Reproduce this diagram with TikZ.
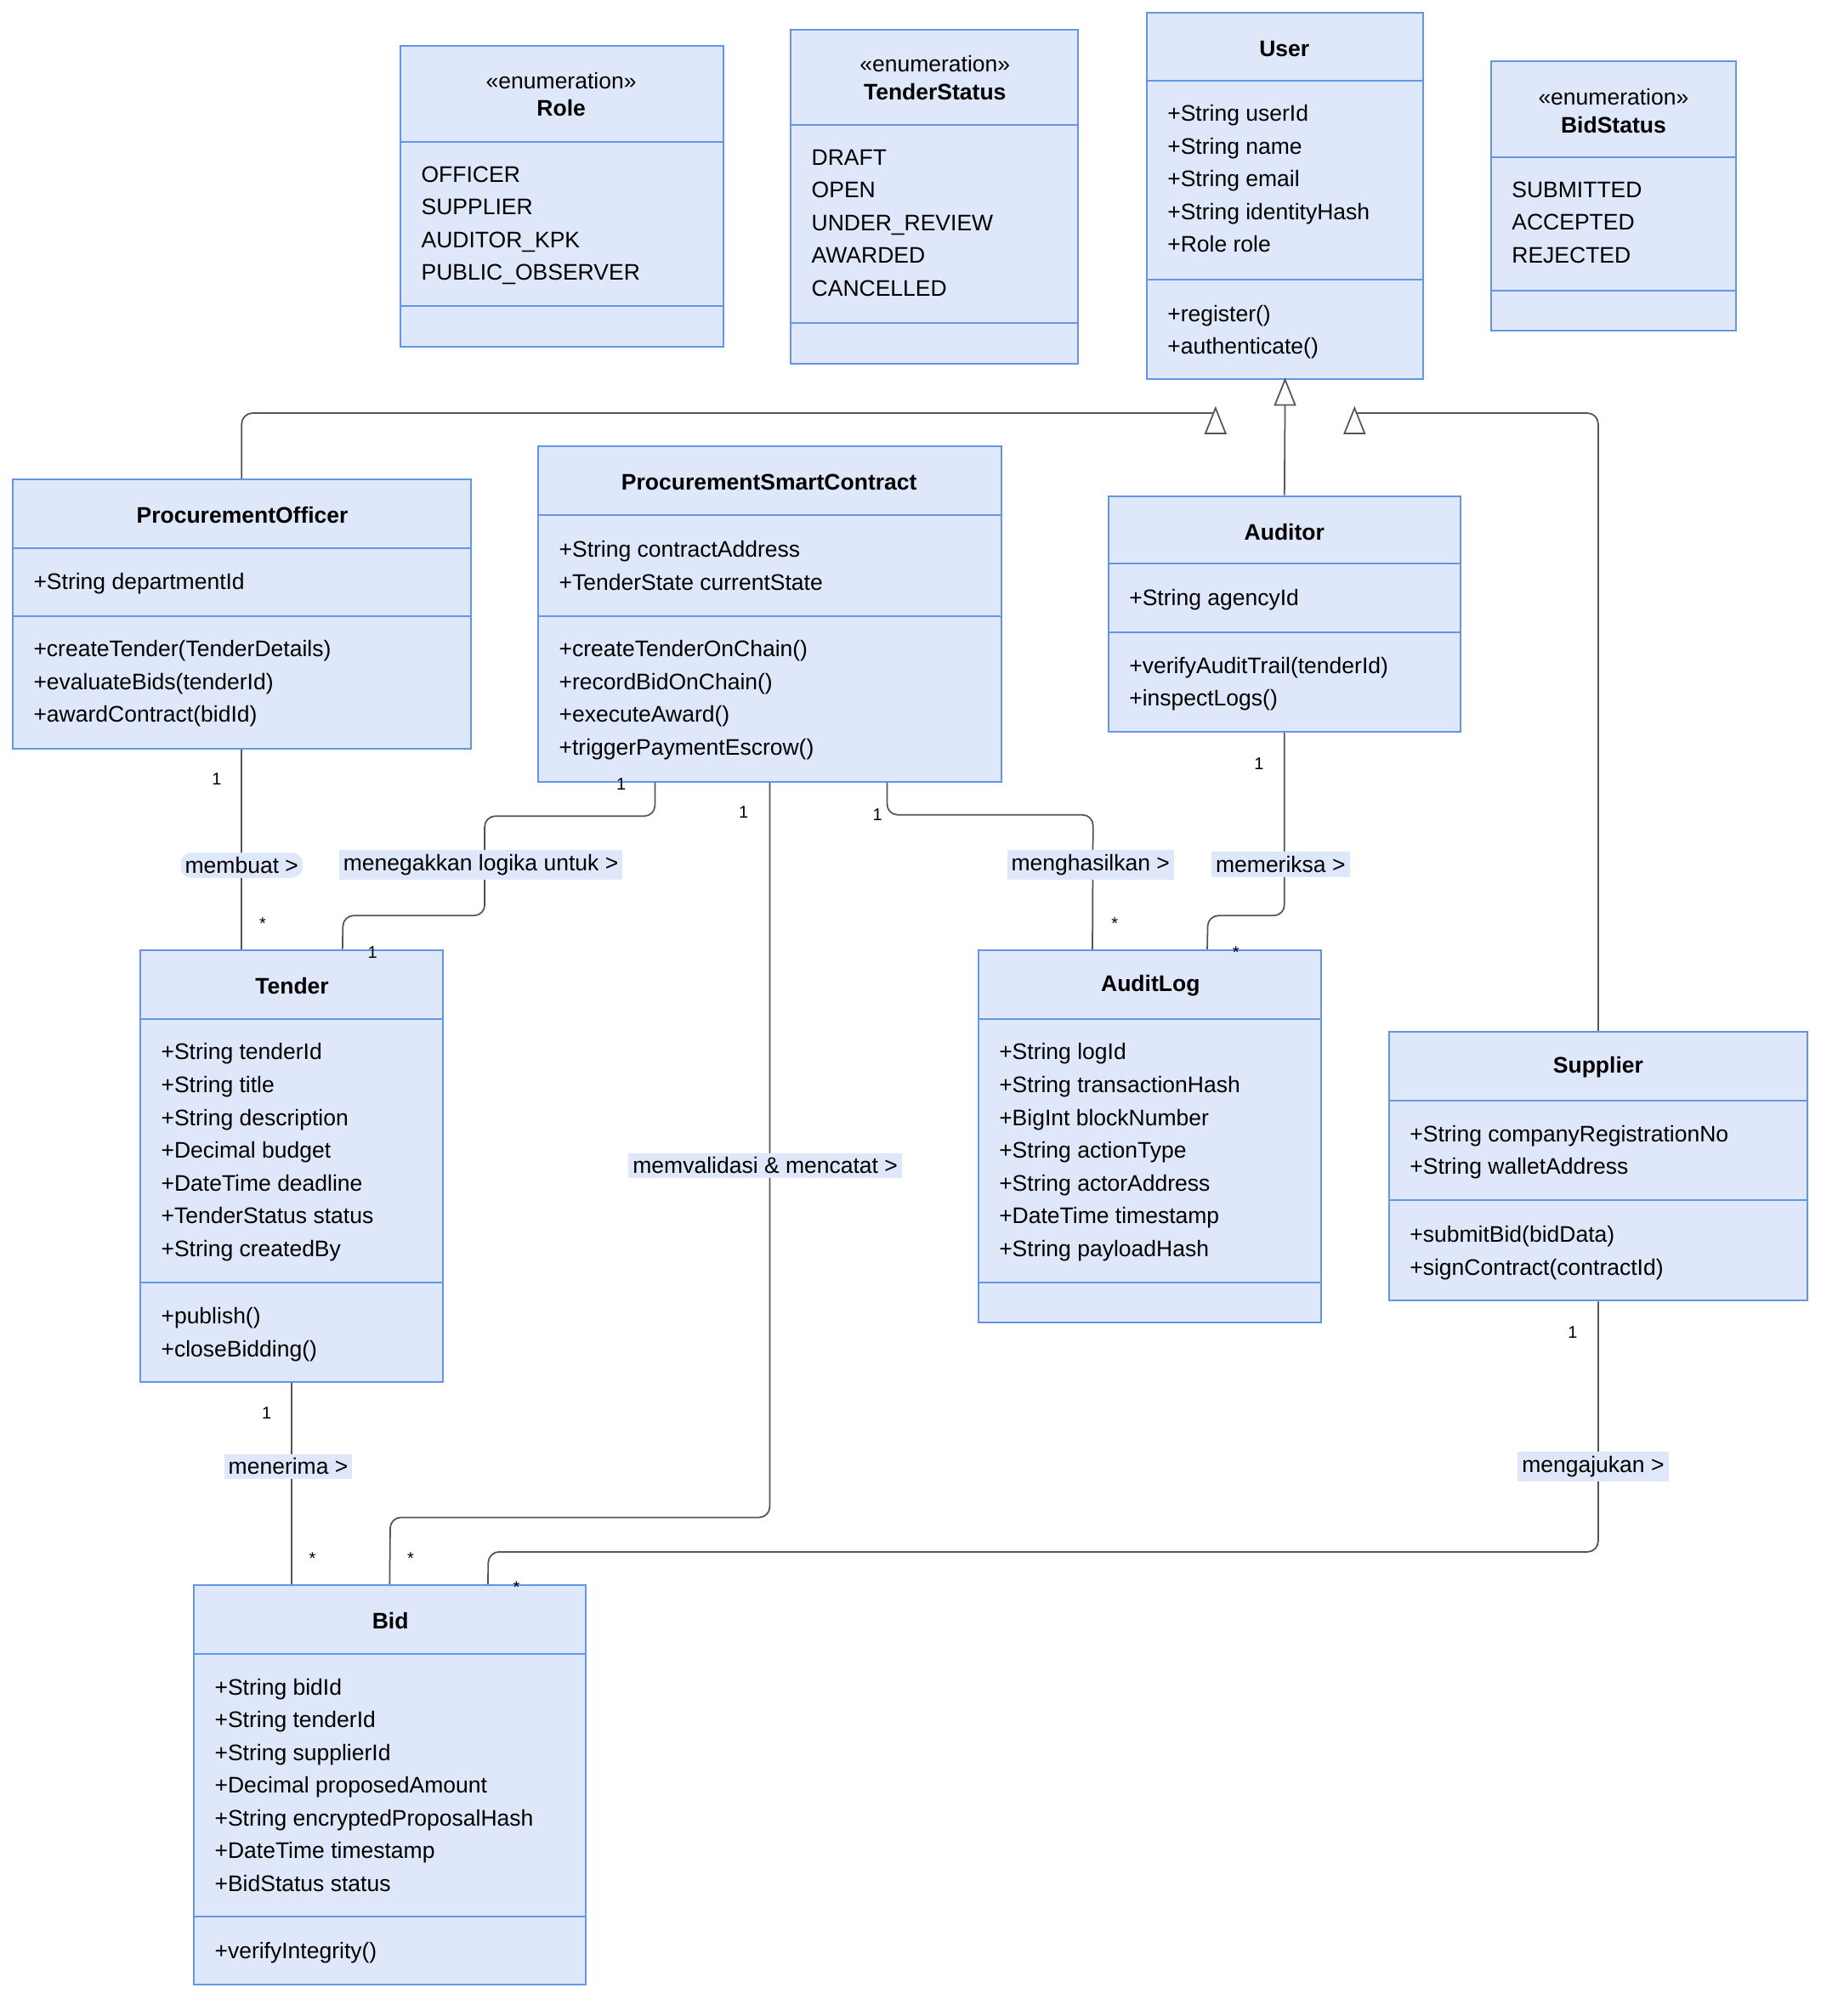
\documentclass[tikz,border=0pt]{standalone}
\usepackage{fontspec}
\setmainfont{Liberation Sans}
\usetikzlibrary{positioning,calc,arrows.meta}
\definecolor{clsfill}{RGB}{222,232,250}
\definecolor{clsline}{RGB}{100,150,230}
\definecolor{conn}{RGB}{85,85,85}
\tikzset{
  cls/.style={draw=clsline,fill=clsfill,line width=0.8pt,inner sep=0pt},
  sep/.style={draw=clsline,line width=0.8pt},
  txt/.style={font=\fontsize{10.6}{15.4}\selectfont,align=left,inner sep=0pt,anchor=north west},
  ttl/.style={font=\fontsize{10.6}{13}\selectfont,align=center,inner sep=0pt},
  assoc/.style={draw=conn,line width=0.7pt,rounded corners=5pt},
  lbl/.style={fill=clsfill,font=\fontsize{10.6}{13}\selectfont,inner sep=2pt},
  mult/.style={font=\fontsize{8}{10}\selectfont,inner sep=0pt},
  tri/.style={draw=conn,fill=white,line width=0.7pt}
}
\newcommand\umlbox[5]{\node[cls,minimum width={0.6pt*(#4-#2)},minimum height={0.6pt*(#5-#3)}] (#1) at ({(#2+#4)/2},{(#3+#5)/2}) {};}
\begin{document}
\begin{tikzpicture}[x=0.6pt,y=-0.6pt]
\useasboundingbox (0,0) rectangle (1441,1581);
% classes
\umlbox{role}{314}{36}{567}{272}
\umlbox{tstatus}{620}{23}{845}{285}
\umlbox{user}{899}{10}{1116}{297}
\umlbox{bstatus}{1169}{48}{1361}{259}
\umlbox{officer}{10}{376}{369}{587}
\umlbox{psc}{422}{350}{785}{613}
\umlbox{auditor}{869}{389}{1145}{574}
\umlbox{tender}{110}{745}{347}{1084}
\umlbox{auditlog}{767}{745}{1036}{1037}
\umlbox{supplier}{1089}{809}{1417}{1020}
\umlbox{bid}{152}{1243}{459}{1556}
% separators
\foreach \xa/\xb/\ya/\yb in {314/567/111/240, 620/845/98/253, 899/1116/63/219,
  1169/1361/123/228, 10/369/430/483, 422/785/404/483, 869/1145/442/496,
  110/347/799/1006, 767/1036/799/1006, 1089/1417/863/941, 152/459/1297/1503}{
  \draw[sep] (\xa,\ya) -- (\xb,\ya);
  \draw[sep] (\xa,\yb) -- (\xb,\yb);
}
% titles
\node[ttl] (roleT) at (440,74) {«enumeration»\\\textbf{Role}};
\node[ttl] (tstatusT) at (733,61) {«enumeration»\\\textbf{TenderStatus}};
\node[ttl] (userT) at (1007,38) {\textbf{User}};
\node[ttl] (bstatusT) at (1265,87) {«enumeration»\\\textbf{BidStatus}};
\node[ttl] (officerT) at (190,404) {\textbf{ProcurementOfficer}};
\node[ttl] (pscT) at (603,378) {\textbf{ProcurementSmartContract}};
\node[ttl] (auditorT) at (1007,417) {\textbf{Auditor}};
\node[ttl] (tenderT) at (229,773) {\textbf{Tender}};
\node[ttl] (auditlogT) at (902,773) {\textbf{AuditLog}};
\node[ttl] (supplierT) at (1253,837) {\textbf{Supplier}};
\node[ttl] (bidT) at (306,1271) {\textbf{Bid}};
% members
\node[txt] (roleA) at (330,130) {OFFICER\\SUPPLIER\\AUDITOR\_KPK\\PUBLIC\_OBSERVER};
\node[txt] (tstatusA) at (636,117) {DRAFT\\OPEN\\UNDER\_REVIEW\\AWARDED\\CANCELLED};
\node[txt] (userA) at (915,82) {+String userId\\+String name\\+String email\\+String identityHash\\+Role role};
\node[txt] (userM) at (915,239) {+register()\\+authenticate()};
\node[txt] (bstatusA) at (1185,142) {SUBMITTED\\ACCEPTED\\REJECTED};
\node[txt] (officerA) at (26,449) {+String departmentId};
\node[txt] (officerM) at (26,502) {+createTender(TenderDetails)\\+evaluateBids(tenderId)\\+awardContract(bidId)};
\node[txt] (pscA) at (438,424) {+String contractAddress\\+TenderState currentState};
\node[txt] (pscM) at (438,502) {+createTenderOnChain()\\+recordBidOnChain()\\+executeAward()\\+triggerPaymentEscrow()};
\node[txt] (auditorA) at (885,462) {+String agencyId};
\node[txt] (auditorM) at (885,515) {+verifyAuditTrail(tenderId)\\+inspectLogs()};
\node[txt] (tenderA) at (126,818) {+String tenderId\\+String title\\+String description\\+Decimal budget\\+DateTime deadline\\+TenderStatus status\\+String createdBy};
\node[txt] (tenderM) at (126,1025) {+publish()\\+closeBidding()};
\node[txt] (auditlogA) at (783,818) {+String logId\\+String transactionHash\\+BigInt blockNumber\\+String actionType\\+String actorAddress\\+DateTime timestamp\\+String payloadHash};
\node[txt] (supplierA) at (1105,882) {+String companyRegistrationNo\\+String walletAddress};
\node[txt] (supplierM) at (1105,961) {+submitBid(bidData)\\+signContract(contractId)};
\node[txt] (bidA) at (168,1316) {+String bidId\\+String tenderId\\+String supplierId\\+Decimal proposedAmount\\+String encryptedProposalHash\\+DateTime timestamp\\+BidStatus status};
\node[txt] (bidM) at (168,1523) {+verifyIntegrity()};
% inheritance
\coordinate (gL) at (953,324);
\coordinate (gR) at (1062,324);
\draw[assoc] (officer.north) |- (gL);
\draw[assoc] (supplier.north) |- (gR);
\draw[assoc] (auditor.north) -- ($(user.south)+(0,20)$);
\draw[tri] (user.south) -- ++(-8,20) -- ++(16,0) -- cycle;
\draw[tri] ($(gL)+(0,-4)$) -- ++(-8,20) -- ++(16,0) -- cycle;
\draw[tri] ($(gR)+(0,-4)$) -- ++(-8,20) -- ++(16,0) -- cycle;
% associations
\draw[assoc] (officer.south) -- node[lbl,pos=0.58] (l1) {membuat >} (tender.north -| officer.south);
\draw[assoc] ($(psc.south)+(-90,0)$) |- (380,640) |- (269,718) -- ($(tender.north)+(40,0)$);
\node[lbl] (l2) at (377,678) {menegakkan logika untuk >};
\draw[assoc] (psc.south) |- (306,1190) -- ($(bid.north)+(0,0)$);
\node[lbl] (l3) at (600,914) {memvalidasi \& mencatat >};
\draw[assoc] ($(psc.south)+(92,0)$) |- (857,639) -- ($(auditlog.north)+(-45,0)$);
\node[lbl] (l4) at (855,678) {menghasilkan >};
\draw[assoc] (auditor.south) |- (947,718) -- ($(auditlog.north)+(45,0)$);
\node[lbl] (l5) at (1004,678) {memeriksa >};
\draw[assoc] (tender.south) -- ($(bid.north)+(-77,0)$);
\node[lbl] (l6) at (226,1150) {menerima >};
\draw[assoc] (supplier.south) |- (383,1217) -- ($(bid.north)+(77,0)$);
\node[lbl] (l7) at (1249,1150) {mengajukan >};
% multiplicities
\foreach \x/\y/\t in {170/611/1, 206/724/*, 487/615/1, 292/747/1, 583/637/1, 322/1222/*,
  688/639/1, 874/724/*, 987/599/1, 969/747/*, 209/1108/1, 245/1222/*, 1233/1045/1, 405/1245/*}
  \node[mult] at (\x,\y) {\t};
\end{tikzpicture}
\end{document}
